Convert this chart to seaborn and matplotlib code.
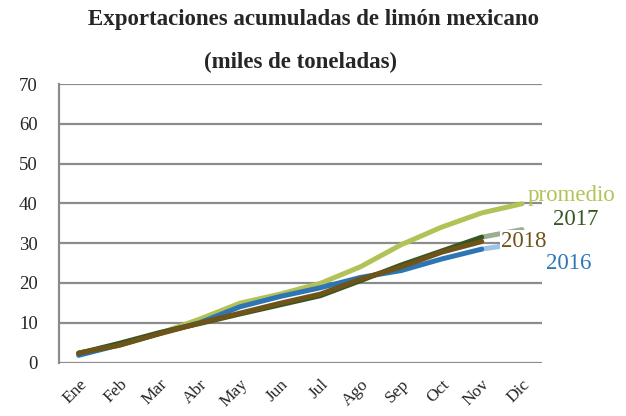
import pandas as pd
import seaborn as sns
import matplotlib.pyplot as plt

meses = ["Ene", "Feb", "Mar", "Abr", "May", "Jun", "Jul", "Ago", "Sep", "Oct", "Nov", "Dic"]
promedio = [2.3, 4.4, 7.3, 10.9, 14.9, 17.2, 19.9, 24.1, 29.6, 34.0, 37.6, 39.9]
y2016 = [1.8, 4.4, 7.3, 10.0, 14.0, 16.6, 18.8, 21.4, 23.1, 26.0, 28.5, 30.0]
y2017 = [2.3, 4.8, 7.5, 9.8, 12.2, 14.5, 16.8, 20.6, 24.5, 28.0, 31.5, 33.4]
y2018 = [2.4, 4.3, 7.2, 9.9, 12.4, 14.9, 17.2, 21.0, 24.0, 27.7, 30.4]

c_prom = "#b3c257"
c_2016 = "#2e75b6"
c_2017 = "#375623"
c_2018 = "#6e5418"

sns.set_style("white")
plt.rcParams["font.family"] = ["Liberation Serif", "DejaVu Serif"]

fig = plt.figure(figsize=(6.26, 4.16), dpi=100)
ax = fig.add_axes([0.0935, 0.1286, 0.7725, 0.6694])

kw = dict(linewidth=3.6, solid_capstyle="round", sort=False, ax=ax)
sns.lineplot(x=meses, y=promedio, color=c_prom, **kw)
sns.lineplot(x=meses[10:], y=y2016[10:], color="#9dc3e6", **kw)
sns.lineplot(x=meses[:11], y=y2016[:11], color=c_2016, **kw)
sns.lineplot(x=meses[10:], y=y2017[10:], color="#9aae94", **kw)
sns.lineplot(x=meses[:11], y=y2017[:11], color=c_2017, **kw)
sns.lineplot(x=meses[:11], y=y2018, color=c_2018, **kw)

ax.set_xlim(-0.5, 11.5)
ax.set_ylim(0, 70)
ax.set_yticks(range(0, 71, 10))
ax.yaxis.grid(True, color="#8c8c8c", linewidth=1.6)
ax.set_axisbelow(True)
for s in ["top", "right", "bottom"]:
    ax.spines[s].set_visible(False)
ax.spines["left"].set_color("#8c8c8c")
ax.spines["left"].set_linewidth(1.6)
ax.tick_params(axis="both", length=0)
ax.tick_params(axis="y", labelsize=13.5, pad=15)
ax.tick_params(axis="x", labelsize=12.5, pad=10)
plt.setp(ax.get_xticklabels(), rotation=45, ha="right", rotation_mode="anchor")
ax.set_xlabel("")
ax.set_ylabel("")

ax.annotate("promedio", (11, promedio[-1]), xytext=(4, 6), textcoords="offset points",
            color=c_prom, fontsize=16.5, va="center", ha="left")
ax.annotate("2017", (11, y2017[-1]), xytext=(22, 7), textcoords="offset points",
            color=c_2017, fontsize=16.5, va="center", ha="left")
ax.annotate("2018", (10, y2018[-1]), xytext=(14, 0), textcoords="offset points",
            color=c_2018, fontsize=16.5, va="center", ha="left",
            bbox=dict(facecolor="white", edgecolor="none", pad=0.5))
ax.annotate("2016", (11, y2016[-1]), xytext=(17, -15), textcoords="offset points",
            color=c_2016, fontsize=16.5, va="center", ha="left")

fig.text(0.5, 0.952, "Exportaciones acumuladas de limón mexicano", ha="center", va="center",
         fontsize=16.5, fontweight="bold")
fig.text(0.48, 0.85, "(miles de toneladas)", ha="center", va="center",
         fontsize=16.5, fontweight="bold")

fig.savefig("out.png", dpi=100)
